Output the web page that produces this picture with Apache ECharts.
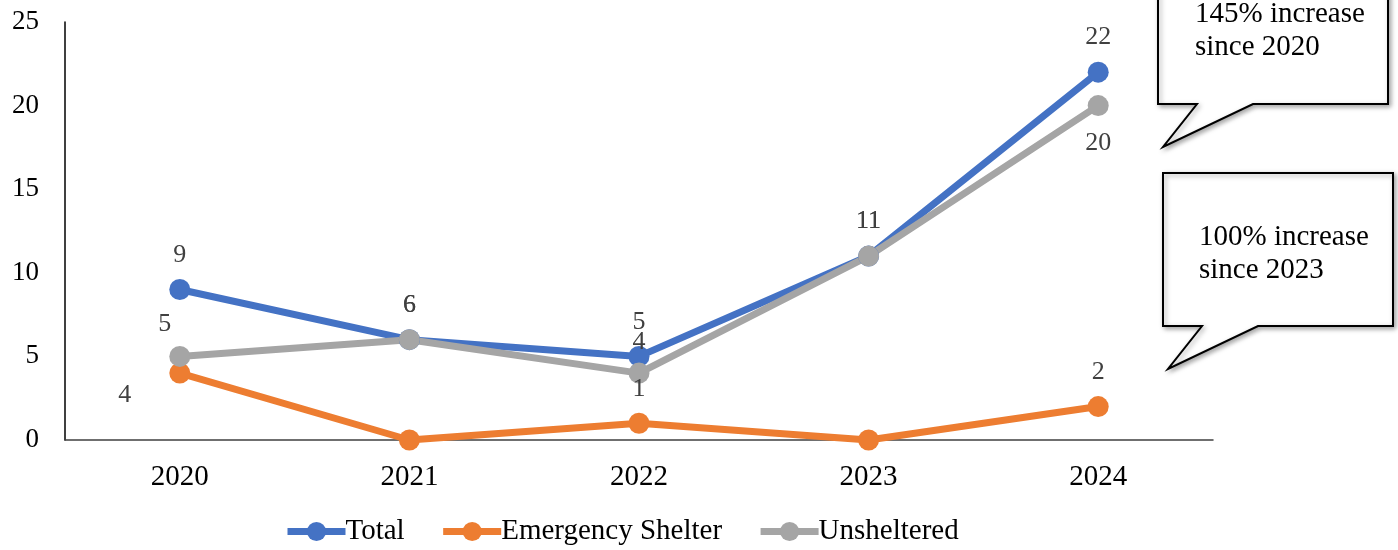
<!DOCTYPE html>
<html>
<head>
<meta charset="utf-8">
<script src="https://cdn.jsdelivr.net/npm/echarts@6/dist/echarts.min.js"></script>
<style>html,body{margin:0;padding:0;background:#fff}#c{width:1398px;height:550px}</style>
</head>
<body>
<div id="c"></div>
<script>
const categories = ['2020', '2021', '2022', '2023', '2024'];
const totalValues = [9, 6, 5, 11, 22];
const shelterValues = [4, 0, 1, 0, 2];
const unshelteredValues = [5, 6, 4, 11, 20];
const yTicks = [0, 5, 10, 15, 20, 25];
const callout1 = '145% increase\nsince 2020';
const callout2 = '100% increase\nsince 2023';

const FONT = "'Liberation Serif', 'Times New Roman', serif";
const labelBase = { show: true, color: '#404040', fontSize: 26, fontFamily: FONT };

// label placements (style only)
const totalLabelPos = [{ position: 'top', distance: 11 }, { position: 'top', distance: 11 }, { position: 'top', distance: 11 }, { position: 'top', distance: 11 }, { position: 'top', distance: 11 }];
const shelterLabelPos = [{ position: 'left', distance: 0, offset: [-38, 22] }, null, { position: 'top', distance: 11 }, null, { position: 'top', distance: 11 }];
const unshelteredLabelPos = [{ position: 'top', distance: 9, offset: [-15, 0] }, { position: 'top', distance: 11 }, { position: 'top', distance: 7 }, { position: 'top', distance: 11 }, { position: 'bottom', distance: 14 }];

function build(values, pos) {
  return values.map((v, i) => {
    const p = pos[i];
    return { value: v, label: p ? Object.assign({}, labelBase, p) : { show: false } };
  });
}

function lineSeries(name, color, values, pos) {
  return {
    name, type: 'line', data: build(values, pos),
    symbol: 'circle', symbolSize: 21,
    lineStyle: { width: 7, color },
    itemStyle: { color },
    label: labelBase,
    emphasis: { disabled: true }
  };
}

const chart = echarts.init(document.getElementById('c'));
const shadow = { shadowBlur: 5, shadowOffsetX: 2, shadowOffsetY: 2, shadowColor: 'rgba(0,0,0,0.35)' };
chart.setOption({
  animation: false,
  grid: { left: 65, right: 185, top: 22, bottom: 110 },
  legend: {
    top: 512, left: 279, itemWidth: 58, itemHeight: 24, itemGap: 35, padding: 5,
    lineStyle: { width: 7 },
    textStyle: { fontSize: 29, fontFamily: FONT, color: '#000', padding: [0, 0, 0, -5] },
    data: ['Total', 'Emergency Shelter', 'Unsheltered']
  },
  xAxis: {
    type: 'category', data: categories, boundaryGap: true,
    axisLine: { lineStyle: { color: '#404040', width: 1.5 } },
    axisTick: { show: false },
    axisLabel: { fontSize: 29, fontFamily: FONT, color: '#000', margin: 23 }
  },
  yAxis: {
    type: 'value', min: yTicks[0], max: yTicks[yTicks.length - 1], interval: yTicks[1] - yTicks[0],
    axisLine: { show: true, lineStyle: { color: '#000', width: 1.5 } },
    axisTick: { show: false },
    splitLine: { show: false },
    axisLabel: { fontSize: 27, fontFamily: FONT, color: '#000', margin: 26 }
  },
  series: [
    lineSeries('Total', '#4472C4', totalValues, totalLabelPos),
    lineSeries('Emergency Shelter', '#ED7D31', shelterValues, shelterLabelPos),
    lineSeries('Unsheltered', '#A5A5A5', unshelteredValues, unshelteredLabelPos)
  ],
  graphic: [
    {
      type: 'polygon', z: 10,
      shape: { points: [[1158, -10], [1388, -10], [1388, 104], [1253, 104], [1163, 147], [1197, 104], [1158, 104]] },
      style: Object.assign({ fill: '#fff', stroke: '#000', lineWidth: 2 }, shadow)
    },
    {
      type: 'text', z: 11, left: 1195, top: -2,
      style: { text: callout1, fontSize: 29, fontFamily: FONT, fill: '#000', lineHeight: 33 }
    },
    {
      type: 'polygon', z: 10,
      shape: { points: [[1163, 173], [1393, 173], [1393, 326], [1258, 326], [1168, 369], [1202, 326], [1163, 326]] },
      style: Object.assign({ fill: '#fff', stroke: '#000', lineWidth: 2 }, shadow)
    },
    {
      type: 'text', z: 11, left: 1199, top: 221,
      style: { text: callout2, fontSize: 29, fontFamily: FONT, fill: '#000', lineHeight: 33 }
    }
  ]
});
</script>
</body>
</html>
